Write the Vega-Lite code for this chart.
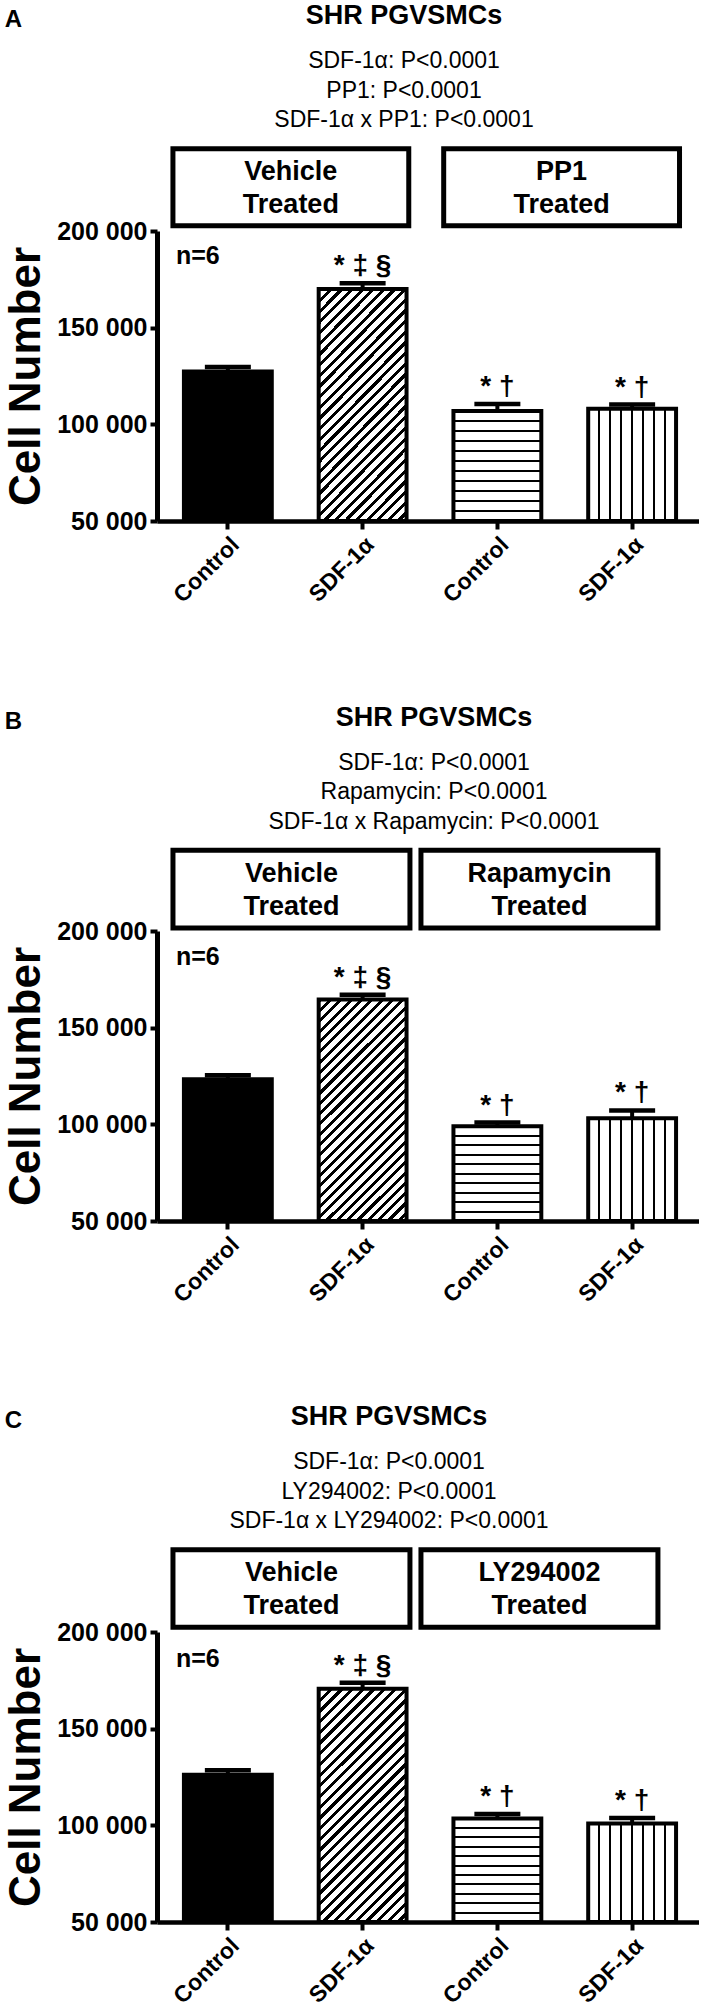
{
"$schema": "https://vega.github.io/schema/vega-lite/v6.json",
"background": "white",
"padding": {"left": 4, "top": 2, "right": 0, "bottom": 0},
"spacing": 95,
"config": {
  "font": "Liberation Sans",
  "view": {"stroke": null},
  "mark": {"color": "black"},
  "axis": {"labelColor": "black", "domainColor": "black", "tickColor": "black", "titleColor": "black", "grid": false, "labelFont": "Liberation Sans", "titleFont": "Liberation Sans"},
  "title": {"color": "black", "subtitleColor": "black", "font": "Liberation Sans", "subtitleFont": "Liberation Sans"}
},
"datasets": {
  "A": [
    {"bar": "Control (Vehicle)", "mean": 127300, "upper": 129700, "sig": ""},
    {"bar": "SDF-1α (Vehicle)", "mean": 170000, "upper": 173000, "sig": "* ‡ §"},
    {"bar": "Control (PP1)", "mean": 106900, "upper": 110500, "sig": "* †"},
    {"bar": "SDF-1α (PP1)", "mean": 108100, "upper": 110200, "sig": "* †"}
  ],
  "B": [
    {"bar": "Control (Vehicle)", "mean": 123300, "upper": 125400, "sig": ""},
    {"bar": "SDF-1α (Vehicle)", "mean": 164600, "upper": 167000, "sig": "* ‡ §"},
    {"bar": "Control (Rapamycin)", "mean": 99000, "upper": 100900, "sig": "* †"},
    {"bar": "SDF-1α (Rapamycin)", "mean": 103100, "upper": 107200, "sig": "* †"}
  ],
  "C": [
    {"bar": "Control (Vehicle)", "mean": 126100, "upper": 128500, "sig": ""},
    {"bar": "SDF-1α (Vehicle)", "mean": 170700, "upper": 173800, "sig": "* ‡ §"},
    {"bar": "Control (LY294002)", "mean": 103500, "upper": 105900, "sig": "* †"},
    {"bar": "SDF-1α (LY294002)", "mean": 100900, "upper": 103850, "sig": "* †"}
  ]
},
"vconcat": [
{
  "title": {"text": "A", "anchor": "start", "frame": "bounds", "fontSize": 24, "fontWeight": "bold", "offset": -30},
  "vconcat": [
  {
    "width": 542, "height": 290,
    "title": {"text": "SHR PGVSMCs", "subtitle": ["SDF-1α: P<0.0001", "PP1: P<0.0001", "SDF-1α x PP1: P<0.0001"], "fontSize": 27, "fontWeight": "bold", "subtitleFontSize": 23, "subtitleFontWeight": "normal", "subtitleLineHeight": 29.5, "subtitlePadding": 20, "offset": 13, "dx": -24, "anchor": "middle", "frame": "group"},
    "resolve": {"scale": {"x": "independent"}},
    "layer": [
    {
      "data": {"name": "A"},
      "encoding": {"x": {"field": "bar", "type": "nominal", "scale": {"domain": ["Control (Vehicle)", "SDF-1α (Vehicle)", "Control (PP1)", "SDF-1α (PP1)"], "paddingInner": 0.348, "paddingOuter": 0.185, "align": 0.54},
        "axis": {"title": null, "labelExpr": "split(datum.value, ' (')[0]", "labelAngle": -45, "labelFontSize": 23, "labelFontWeight": "bold", "labelPadding": 4, "tickSize": 8, "tickWidth": 4, "domainWidth": 4.5}}},
      "layer": [
        {"mark": {"type": "rule", "strokeWidth": 4}, "encoding": {"y": {"field": "mean", "type": "quantitative", "scale": {"domain": [50000, 200000], "nice": false, "zero": false},
          "axis": {"values": [50000, 100000, 150000, 200000], "labelExpr": "replace(format(datum.value, ','), ',', ' ')", "title": "Cell Number", "titleFontSize": 44, "titleFontWeight": "bold", "titlePadding": 8, "labelFontSize": 25, "labelFontWeight": "bold", "labelPadding": 3, "tickSize": 7, "tickWidth": 4, "domainWidth": 5}}, "y2": {"field": "upper"}}},
        {"mark": {"type": "tick", "size": 46, "thickness": 4.5, "orient": "horizontal", "opacity": 1}, "encoding": {"y": {"field": "upper", "type": "quantitative", "scale": {"domain": [50000, 200000], "nice": false, "zero": false}}}},
        {"transform": [{"filter": "datum.bar === 'Control (Vehicle)'"}], "mark": {"type": "bar", "fill": "black", "stroke": "black", "strokeWidth": 4}, "encoding": {"y": {"field": "mean", "type": "quantitative", "scale": {"domain": [50000, 200000], "nice": false, "zero": false}}, "y2": {"datum": 50000}}},
        {"transform": [{"filter": "datum.bar === 'SDF-1α (Vehicle)'"}], "mark": {"type": "bar", "stroke": "black", "strokeWidth": 4, "fill": {"gradient": "linear", "x1": 0, "y1": 0, "x2": 0.4614, "y2": 1.206, "stops": [{"offset":0,"color":"#000"},{"offset":0.0133,"color":"#000"},{"offset":0.0133,"color":"#fff"},{"offset":0.0333,"color":"#fff"},{"offset":0.0333,"color":"#000"},{"offset":0.0467,"color":"#000"},{"offset":0.0467,"color":"#fff"},{"offset":0.0667,"color":"#fff"},{"offset":0.0667,"color":"#000"},{"offset":0.08,"color":"#000"},{"offset":0.08,"color":"#fff"},{"offset":0.1,"color":"#fff"},{"offset":0.1,"color":"#000"},{"offset":0.1133,"color":"#000"},{"offset":0.1133,"color":"#fff"},{"offset":0.1333,"color":"#fff"},{"offset":0.1333,"color":"#000"},{"offset":0.1467,"color":"#000"},{"offset":0.1467,"color":"#fff"},{"offset":0.1667,"color":"#fff"},{"offset":0.1667,"color":"#000"},{"offset":0.18,"color":"#000"},{"offset":0.18,"color":"#fff"},{"offset":0.2,"color":"#fff"},{"offset":0.2,"color":"#000"},{"offset":0.2133,"color":"#000"},{"offset":0.2133,"color":"#fff"},{"offset":0.2333,"color":"#fff"},{"offset":0.2333,"color":"#000"},{"offset":0.2467,"color":"#000"},{"offset":0.2467,"color":"#fff"},{"offset":0.2667,"color":"#fff"},{"offset":0.2667,"color":"#000"},{"offset":0.28,"color":"#000"},{"offset":0.28,"color":"#fff"},{"offset":0.3,"color":"#fff"},{"offset":0.3,"color":"#000"},{"offset":0.3133,"color":"#000"},{"offset":0.3133,"color":"#fff"},{"offset":0.3333,"color":"#fff"},{"offset":0.3333,"color":"#000"},{"offset":0.3467,"color":"#000"},{"offset":0.3467,"color":"#fff"},{"offset":0.3667,"color":"#fff"},{"offset":0.3667,"color":"#000"},{"offset":0.38,"color":"#000"},{"offset":0.38,"color":"#fff"},{"offset":0.4,"color":"#fff"},{"offset":0.4,"color":"#000"},{"offset":0.4133,"color":"#000"},{"offset":0.4133,"color":"#fff"},{"offset":0.4333,"color":"#fff"},{"offset":0.4333,"color":"#000"},{"offset":0.4467,"color":"#000"},{"offset":0.4467,"color":"#fff"},{"offset":0.4667,"color":"#fff"},{"offset":0.4667,"color":"#000"},{"offset":0.48,"color":"#000"},{"offset":0.48,"color":"#fff"},{"offset":0.5,"color":"#fff"},{"offset":0.5,"color":"#000"},{"offset":0.5133,"color":"#000"},{"offset":0.5133,"color":"#fff"},{"offset":0.5333,"color":"#fff"},{"offset":0.5333,"color":"#000"},{"offset":0.5467,"color":"#000"},{"offset":0.5467,"color":"#fff"},{"offset":0.5667,"color":"#fff"},{"offset":0.5667,"color":"#000"},{"offset":0.58,"color":"#000"},{"offset":0.58,"color":"#fff"},{"offset":0.6,"color":"#fff"},{"offset":0.6,"color":"#000"},{"offset":0.6133,"color":"#000"},{"offset":0.6133,"color":"#fff"},{"offset":0.6333,"color":"#fff"},{"offset":0.6333,"color":"#000"},{"offset":0.6467,"color":"#000"},{"offset":0.6467,"color":"#fff"},{"offset":0.6667,"color":"#fff"},{"offset":0.6667,"color":"#000"},{"offset":0.68,"color":"#000"},{"offset":0.68,"color":"#fff"},{"offset":0.7,"color":"#fff"},{"offset":0.7,"color":"#000"},{"offset":0.7133,"color":"#000"},{"offset":0.7133,"color":"#fff"},{"offset":0.7333,"color":"#fff"},{"offset":0.7333,"color":"#000"},{"offset":0.7467,"color":"#000"},{"offset":0.7467,"color":"#fff"},{"offset":0.7667,"color":"#fff"},{"offset":0.7667,"color":"#000"},{"offset":0.78,"color":"#000"},{"offset":0.78,"color":"#fff"},{"offset":0.8,"color":"#fff"},{"offset":0.8,"color":"#000"},{"offset":0.8133,"color":"#000"},{"offset":0.8133,"color":"#fff"},{"offset":0.8333,"color":"#fff"},{"offset":0.8333,"color":"#000"},{"offset":0.8467,"color":"#000"},{"offset":0.8467,"color":"#fff"},{"offset":0.8667,"color":"#fff"},{"offset":0.8667,"color":"#000"},{"offset":0.88,"color":"#000"},{"offset":0.88,"color":"#fff"},{"offset":0.9,"color":"#fff"},{"offset":0.9,"color":"#000"},{"offset":0.9133,"color":"#000"},{"offset":0.9133,"color":"#fff"},{"offset":0.9333,"color":"#fff"},{"offset":0.9333,"color":"#000"},{"offset":0.9467,"color":"#000"},{"offset":0.9467,"color":"#fff"},{"offset":0.9667,"color":"#fff"},{"offset":0.9667,"color":"#000"},{"offset":0.98,"color":"#000"},{"offset":0.98,"color":"#fff"},{"offset":1,"color":"#fff"}]}}, "encoding": {"y": {"field": "mean", "type": "quantitative", "scale": {"domain": [50000, 200000], "nice": false, "zero": false}}, "y2": {"datum": 50000}}},
        {"transform": [{"filter": "datum.bar === 'Control (PP1)'"}], "mark": {"type": "bar", "stroke": "black", "strokeWidth": 4, "fill": {"gradient": "linear", "x1": 0, "y1": 0, "x2": 0, "y2": 1, "stops": [{"offset":0,"color":"#fff"},{"offset":0.0814,"color":"#fff"},{"offset":0.0814,"color":"#000"},{"offset":0.1004,"color":"#000"},{"offset":0.1004,"color":"#fff"},{"offset":0.1723,"color":"#fff"},{"offset":0.1723,"color":"#000"},{"offset":0.1913,"color":"#000"},{"offset":0.1913,"color":"#fff"},{"offset":0.2632,"color":"#fff"},{"offset":0.2632,"color":"#000"},{"offset":0.2822,"color":"#000"},{"offset":0.2822,"color":"#fff"},{"offset":0.3541,"color":"#fff"},{"offset":0.3541,"color":"#000"},{"offset":0.3731,"color":"#000"},{"offset":0.3731,"color":"#fff"},{"offset":0.445,"color":"#fff"},{"offset":0.445,"color":"#000"},{"offset":0.464,"color":"#000"},{"offset":0.464,"color":"#fff"},{"offset":0.536,"color":"#fff"},{"offset":0.536,"color":"#000"},{"offset":0.555,"color":"#000"},{"offset":0.555,"color":"#fff"},{"offset":0.6269,"color":"#fff"},{"offset":0.6269,"color":"#000"},{"offset":0.6459,"color":"#000"},{"offset":0.6459,"color":"#fff"},{"offset":0.7178,"color":"#fff"},{"offset":0.7178,"color":"#000"},{"offset":0.7368,"color":"#000"},{"offset":0.7368,"color":"#fff"},{"offset":0.8087,"color":"#fff"},{"offset":0.8087,"color":"#000"},{"offset":0.8277,"color":"#000"},{"offset":0.8277,"color":"#fff"},{"offset":0.8996,"color":"#fff"},{"offset":0.8996,"color":"#000"},{"offset":0.9186,"color":"#000"},{"offset":0.9186,"color":"#fff"},{"offset":1,"color":"#fff"}]}}, "encoding": {"y": {"field": "mean", "type": "quantitative", "scale": {"domain": [50000, 200000], "nice": false, "zero": false}}, "y2": {"datum": 50000}}},
        {"transform": [{"filter": "datum.bar === 'SDF-1α (PP1)'"}], "mark": {"type": "bar", "stroke": "black", "strokeWidth": 4, "fill": {"gradient": "linear", "x1": 0, "y1": 0, "x2": 1, "y2": 0, "stops": [{"offset":0,"color":"#fff"},{"offset":0.112,"color":"#fff"},{"offset":0.112,"color":"#000"},{"offset":0.138,"color":"#000"},{"offset":0.138,"color":"#fff"},{"offset":0.237,"color":"#fff"},{"offset":0.237,"color":"#000"},{"offset":0.263,"color":"#000"},{"offset":0.263,"color":"#fff"},{"offset":0.362,"color":"#fff"},{"offset":0.362,"color":"#000"},{"offset":0.388,"color":"#000"},{"offset":0.388,"color":"#fff"},{"offset":0.487,"color":"#fff"},{"offset":0.487,"color":"#000"},{"offset":0.513,"color":"#000"},{"offset":0.513,"color":"#fff"},{"offset":0.612,"color":"#fff"},{"offset":0.612,"color":"#000"},{"offset":0.638,"color":"#000"},{"offset":0.638,"color":"#fff"},{"offset":0.737,"color":"#fff"},{"offset":0.737,"color":"#000"},{"offset":0.763,"color":"#000"},{"offset":0.763,"color":"#fff"},{"offset":0.862,"color":"#fff"},{"offset":0.862,"color":"#000"},{"offset":0.888,"color":"#000"},{"offset":0.888,"color":"#fff"},{"offset":1,"color":"#fff"}]}}, "encoding": {"y": {"field": "mean", "type": "quantitative", "scale": {"domain": [50000, 200000], "nice": false, "zero": false}}, "y2": {"datum": 50000}}},
        {"mark": {"type": "text", "baseline": "bottom", "dy": -3, "fontSize": 28, "fontWeight": "bold"}, "encoding": {"y": {"field": "upper", "type": "quantitative", "scale": {"domain": [50000, 200000], "nice": false, "zero": false}}, "text": {"field": "sig"}}},
        {"data": {"values": [{"bar": "Control (Vehicle)", "txt": "n=6"}]}, "mark": {"type": "text", "align": "left", "baseline": "middle", "dx": -8, "fontSize": 25, "fontWeight": "bold"}, "encoding": {"x": {"field": "bar", "type": "nominal", "bandPosition": 0}, "y": {"datum": 187200, "type": "quantitative", "scale": {"domain": [50000, 200000], "nice": false, "zero": false}}, "text": {"field": "txt"}}}
      ]
    },
    {
      "data": {"values": [{"group": "Vehicle", "label": "Vehicle\nTreated"}, {"group": "PP1", "label": "PP1\nTreated"}]},
      "encoding": {"x": {"field": "group", "type": "nominal", "scale": {"domain": ["Vehicle", "PP1"], "paddingInner": 0.129, "paddingOuter": 0.0654, "align": 0.45}, "axis": null}},
      "layer": [
        {"mark": {"type": "rect", "fill": "white", "stroke": "black", "strokeWidth": 5, "clip": false}, "encoding": {"y": {"datum": 202700, "type": "quantitative", "scale": {"domain": [50000, 200000], "nice": false, "zero": false}}, "y2": {"datum": 242500}}},
        {"mark": {"type": "text", "lineBreak": "\n", "lineHeight": 33, "fontSize": 27, "fontWeight": "bold", "baseline": "middle"}, "encoding": {"y": {"datum": 230300, "type": "quantitative", "scale": {"domain": [50000, 200000], "nice": false, "zero": false}}, "text": {"field": "label"}}}
      ]
    }
    ]
  }
  ]
},
{
  "title": {"text": "B", "anchor": "start", "frame": "bounds", "fontSize": 24, "fontWeight": "bold", "offset": -30},
  "vconcat": [
  {
    "width": 542, "height": 290,
    "title": {"text": "     SHR PGVSMCs", "subtitle": ["SDF-1α: P<0.0001", "Rapamycin: P<0.0001", "SDF-1α x Rapamycin: P<0.0001"], "fontSize": 27, "fontWeight": "bold", "subtitleFontSize": 23, "subtitleFontWeight": "normal", "subtitleLineHeight": 29.5, "subtitlePadding": 20, "offset": 13, "dx": 6, "anchor": "middle", "frame": "group"},
    "resolve": {"scale": {"x": "independent"}},
    "layer": [
    {
      "data": {"name": "B"},
      "encoding": {"x": {"field": "bar", "type": "nominal", "scale": {"domain": ["Control (Vehicle)", "SDF-1α (Vehicle)", "Control (Rapamycin)", "SDF-1α (Rapamycin)"], "paddingInner": 0.348, "paddingOuter": 0.185, "align": 0.54},
        "axis": {"title": null, "labelExpr": "split(datum.value, ' (')[0]", "labelAngle": -45, "labelFontSize": 23, "labelFontWeight": "bold", "labelPadding": 4, "tickSize": 8, "tickWidth": 4, "domainWidth": 4.5}}},
      "layer": [
        {"mark": {"type": "rule", "strokeWidth": 4}, "encoding": {"y": {"field": "mean", "type": "quantitative", "scale": {"domain": [50000, 200000], "nice": false, "zero": false},
          "axis": {"values": [50000, 100000, 150000, 200000], "labelExpr": "replace(format(datum.value, ','), ',', ' ')", "title": "Cell Number", "titleFontSize": 44, "titleFontWeight": "bold", "titlePadding": 8, "labelFontSize": 25, "labelFontWeight": "bold", "labelPadding": 3, "tickSize": 7, "tickWidth": 4, "domainWidth": 5}}, "y2": {"field": "upper"}}},
        {"mark": {"type": "tick", "size": 46, "thickness": 4.5, "orient": "horizontal", "opacity": 1}, "encoding": {"y": {"field": "upper", "type": "quantitative", "scale": {"domain": [50000, 200000], "nice": false, "zero": false}}}},
        {"transform": [{"filter": "datum.bar === 'Control (Vehicle)'"}], "mark": {"type": "bar", "fill": "black", "stroke": "black", "strokeWidth": 4}, "encoding": {"y": {"field": "mean", "type": "quantitative", "scale": {"domain": [50000, 200000], "nice": false, "zero": false}}, "y2": {"datum": 50000}}},
        {"transform": [{"filter": "datum.bar === 'SDF-1α (Vehicle)'"}], "mark": {"type": "bar", "stroke": "black", "strokeWidth": 4, "fill": {"gradient": "linear", "x1": 0, "y1": 0, "x2": 0.478, "y2": 1.207, "stops": [{"offset":0,"color":"#000"},{"offset":0.0133,"color":"#000"},{"offset":0.0133,"color":"#fff"},{"offset":0.0333,"color":"#fff"},{"offset":0.0333,"color":"#000"},{"offset":0.0467,"color":"#000"},{"offset":0.0467,"color":"#fff"},{"offset":0.0667,"color":"#fff"},{"offset":0.0667,"color":"#000"},{"offset":0.08,"color":"#000"},{"offset":0.08,"color":"#fff"},{"offset":0.1,"color":"#fff"},{"offset":0.1,"color":"#000"},{"offset":0.1133,"color":"#000"},{"offset":0.1133,"color":"#fff"},{"offset":0.1333,"color":"#fff"},{"offset":0.1333,"color":"#000"},{"offset":0.1467,"color":"#000"},{"offset":0.1467,"color":"#fff"},{"offset":0.1667,"color":"#fff"},{"offset":0.1667,"color":"#000"},{"offset":0.18,"color":"#000"},{"offset":0.18,"color":"#fff"},{"offset":0.2,"color":"#fff"},{"offset":0.2,"color":"#000"},{"offset":0.2133,"color":"#000"},{"offset":0.2133,"color":"#fff"},{"offset":0.2333,"color":"#fff"},{"offset":0.2333,"color":"#000"},{"offset":0.2467,"color":"#000"},{"offset":0.2467,"color":"#fff"},{"offset":0.2667,"color":"#fff"},{"offset":0.2667,"color":"#000"},{"offset":0.28,"color":"#000"},{"offset":0.28,"color":"#fff"},{"offset":0.3,"color":"#fff"},{"offset":0.3,"color":"#000"},{"offset":0.3133,"color":"#000"},{"offset":0.3133,"color":"#fff"},{"offset":0.3333,"color":"#fff"},{"offset":0.3333,"color":"#000"},{"offset":0.3467,"color":"#000"},{"offset":0.3467,"color":"#fff"},{"offset":0.3667,"color":"#fff"},{"offset":0.3667,"color":"#000"},{"offset":0.38,"color":"#000"},{"offset":0.38,"color":"#fff"},{"offset":0.4,"color":"#fff"},{"offset":0.4,"color":"#000"},{"offset":0.4133,"color":"#000"},{"offset":0.4133,"color":"#fff"},{"offset":0.4333,"color":"#fff"},{"offset":0.4333,"color":"#000"},{"offset":0.4467,"color":"#000"},{"offset":0.4467,"color":"#fff"},{"offset":0.4667,"color":"#fff"},{"offset":0.4667,"color":"#000"},{"offset":0.48,"color":"#000"},{"offset":0.48,"color":"#fff"},{"offset":0.5,"color":"#fff"},{"offset":0.5,"color":"#000"},{"offset":0.5133,"color":"#000"},{"offset":0.5133,"color":"#fff"},{"offset":0.5333,"color":"#fff"},{"offset":0.5333,"color":"#000"},{"offset":0.5467,"color":"#000"},{"offset":0.5467,"color":"#fff"},{"offset":0.5667,"color":"#fff"},{"offset":0.5667,"color":"#000"},{"offset":0.58,"color":"#000"},{"offset":0.58,"color":"#fff"},{"offset":0.6,"color":"#fff"},{"offset":0.6,"color":"#000"},{"offset":0.6133,"color":"#000"},{"offset":0.6133,"color":"#fff"},{"offset":0.6333,"color":"#fff"},{"offset":0.6333,"color":"#000"},{"offset":0.6467,"color":"#000"},{"offset":0.6467,"color":"#fff"},{"offset":0.6667,"color":"#fff"},{"offset":0.6667,"color":"#000"},{"offset":0.68,"color":"#000"},{"offset":0.68,"color":"#fff"},{"offset":0.7,"color":"#fff"},{"offset":0.7,"color":"#000"},{"offset":0.7133,"color":"#000"},{"offset":0.7133,"color":"#fff"},{"offset":0.7333,"color":"#fff"},{"offset":0.7333,"color":"#000"},{"offset":0.7467,"color":"#000"},{"offset":0.7467,"color":"#fff"},{"offset":0.7667,"color":"#fff"},{"offset":0.7667,"color":"#000"},{"offset":0.78,"color":"#000"},{"offset":0.78,"color":"#fff"},{"offset":0.8,"color":"#fff"},{"offset":0.8,"color":"#000"},{"offset":0.8133,"color":"#000"},{"offset":0.8133,"color":"#fff"},{"offset":0.8333,"color":"#fff"},{"offset":0.8333,"color":"#000"},{"offset":0.8467,"color":"#000"},{"offset":0.8467,"color":"#fff"},{"offset":0.8667,"color":"#fff"},{"offset":0.8667,"color":"#000"},{"offset":0.88,"color":"#000"},{"offset":0.88,"color":"#fff"},{"offset":0.9,"color":"#fff"},{"offset":0.9,"color":"#000"},{"offset":0.9133,"color":"#000"},{"offset":0.9133,"color":"#fff"},{"offset":0.9333,"color":"#fff"},{"offset":0.9333,"color":"#000"},{"offset":0.9467,"color":"#000"},{"offset":0.9467,"color":"#fff"},{"offset":0.9667,"color":"#fff"},{"offset":0.9667,"color":"#000"},{"offset":0.98,"color":"#000"},{"offset":0.98,"color":"#fff"},{"offset":1,"color":"#fff"}]}}, "encoding": {"y": {"field": "mean", "type": "quantitative", "scale": {"domain": [50000, 200000], "nice": false, "zero": false}}, "y2": {"datum": 50000}}},
        {"transform": [{"filter": "datum.bar === 'Control (Rapamycin)'"}], "mark": {"type": "bar", "stroke": "black", "strokeWidth": 4, "fill": {"gradient": "linear", "x1": 0, "y1": 0, "x2": 0, "y2": 1, "stops": [{"offset":0,"color":"#fff"},{"offset":0.0895,"color":"#fff"},{"offset":0.0895,"color":"#000"},{"offset":0.1105,"color":"#000"},{"offset":0.1105,"color":"#fff"},{"offset":0.1895,"color":"#fff"},{"offset":0.1895,"color":"#000"},{"offset":0.2105,"color":"#000"},{"offset":0.2105,"color":"#fff"},{"offset":0.2895,"color":"#fff"},{"offset":0.2895,"color":"#000"},{"offset":0.3105,"color":"#000"},{"offset":0.3105,"color":"#fff"},{"offset":0.3895,"color":"#fff"},{"offset":0.3895,"color":"#000"},{"offset":0.4105,"color":"#000"},{"offset":0.4105,"color":"#fff"},{"offset":0.4895,"color":"#fff"},{"offset":0.4895,"color":"#000"},{"offset":0.5105,"color":"#000"},{"offset":0.5105,"color":"#fff"},{"offset":0.5895,"color":"#fff"},{"offset":0.5895,"color":"#000"},{"offset":0.6105,"color":"#000"},{"offset":0.6105,"color":"#fff"},{"offset":0.6895,"color":"#fff"},{"offset":0.6895,"color":"#000"},{"offset":0.7105,"color":"#000"},{"offset":0.7105,"color":"#fff"},{"offset":0.7895,"color":"#fff"},{"offset":0.7895,"color":"#000"},{"offset":0.8105,"color":"#000"},{"offset":0.8105,"color":"#fff"},{"offset":0.8895,"color":"#fff"},{"offset":0.8895,"color":"#000"},{"offset":0.9105,"color":"#000"},{"offset":0.9105,"color":"#fff"},{"offset":1,"color":"#fff"}]}}, "encoding": {"y": {"field": "mean", "type": "quantitative", "scale": {"domain": [50000, 200000], "nice": false, "zero": false}}, "y2": {"datum": 50000}}},
        {"transform": [{"filter": "datum.bar === 'SDF-1α (Rapamycin)'"}], "mark": {"type": "bar", "stroke": "black", "strokeWidth": 4, "fill": {"gradient": "linear", "x1": 0, "y1": 0, "x2": 1, "y2": 0, "stops": [{"offset":0,"color":"#fff"},{"offset":0.112,"color":"#fff"},{"offset":0.112,"color":"#000"},{"offset":0.138,"color":"#000"},{"offset":0.138,"color":"#fff"},{"offset":0.237,"color":"#fff"},{"offset":0.237,"color":"#000"},{"offset":0.263,"color":"#000"},{"offset":0.263,"color":"#fff"},{"offset":0.362,"color":"#fff"},{"offset":0.362,"color":"#000"},{"offset":0.388,"color":"#000"},{"offset":0.388,"color":"#fff"},{"offset":0.487,"color":"#fff"},{"offset":0.487,"color":"#000"},{"offset":0.513,"color":"#000"},{"offset":0.513,"color":"#fff"},{"offset":0.612,"color":"#fff"},{"offset":0.612,"color":"#000"},{"offset":0.638,"color":"#000"},{"offset":0.638,"color":"#fff"},{"offset":0.737,"color":"#fff"},{"offset":0.737,"color":"#000"},{"offset":0.763,"color":"#000"},{"offset":0.763,"color":"#fff"},{"offset":0.862,"color":"#fff"},{"offset":0.862,"color":"#000"},{"offset":0.888,"color":"#000"},{"offset":0.888,"color":"#fff"},{"offset":1,"color":"#fff"}]}}, "encoding": {"y": {"field": "mean", "type": "quantitative", "scale": {"domain": [50000, 200000], "nice": false, "zero": false}}, "y2": {"datum": 50000}}},
        {"mark": {"type": "text", "baseline": "bottom", "dy": -3, "fontSize": 28, "fontWeight": "bold"}, "encoding": {"y": {"field": "upper", "type": "quantitative", "scale": {"domain": [50000, 200000], "nice": false, "zero": false}}, "text": {"field": "sig"}}},
        {"data": {"values": [{"bar": "Control (Vehicle)", "txt": "n=6"}]}, "mark": {"type": "text", "align": "left", "baseline": "middle", "dx": -8, "fontSize": 25, "fontWeight": "bold"}, "encoding": {"x": {"field": "bar", "type": "nominal", "bandPosition": 0}, "y": {"datum": 186600, "type": "quantitative", "scale": {"domain": [50000, 200000], "nice": false, "zero": false}}, "text": {"field": "txt"}}}
      ]
    },
    {
      "data": {"values": [{"group": "Vehicle", "label": "Vehicle\nTreated"}, {"group": "Rapamycin", "label": "Rapamycin\nTreated"}]},
      "encoding": {"x": {"field": "group", "type": "nominal", "scale": {"domain": ["Vehicle", "Rapamycin"], "paddingInner": 0.0444, "paddingOuter": 0.115, "align": 0.28}, "axis": null}},
      "layer": [
        {"mark": {"type": "rect", "fill": "white", "stroke": "black", "strokeWidth": 5, "clip": false}, "encoding": {"y": {"datum": 201500, "type": "quantitative", "scale": {"domain": [50000, 200000], "nice": false, "zero": false}}, "y2": {"datum": 241800}}},
        {"mark": {"type": "text", "lineBreak": "\n", "lineHeight": 33, "fontSize": 27, "fontWeight": "bold", "baseline": "middle"}, "encoding": {"y": {"datum": 229500, "type": "quantitative", "scale": {"domain": [50000, 200000], "nice": false, "zero": false}}, "text": {"field": "label"}}}
      ]
    }
    ]
  }
  ]
},
{
  "title": {"text": "C", "anchor": "start", "frame": "bounds", "fontSize": 24, "fontWeight": "bold", "offset": -30},
  "vconcat": [
  {
    "width": 542, "height": 290,
    "title": {"text": "    SHR PGVSMCs", "subtitle": ["SDF-1α: P<0.0001", "LY294002: P<0.0001", "SDF-1α x LY294002: P<0.0001"], "fontSize": 27, "fontWeight": "bold", "subtitleFontSize": 23, "subtitleFontWeight": "normal", "subtitleLineHeight": 29.5, "subtitlePadding": 20, "offset": 13, "dx": -39, "anchor": "middle", "frame": "group"},
    "resolve": {"scale": {"x": "independent"}},
    "layer": [
    {
      "data": {"name": "C"},
      "encoding": {"x": {"field": "bar", "type": "nominal", "scale": {"domain": ["Control (Vehicle)", "SDF-1α (Vehicle)", "Control (LY294002)", "SDF-1α (LY294002)"], "paddingInner": 0.348, "paddingOuter": 0.185, "align": 0.54},
        "axis": {"title": null, "labelExpr": "split(datum.value, ' (')[0]", "labelAngle": -45, "labelFontSize": 23, "labelFontWeight": "bold", "labelPadding": 4, "tickSize": 8, "tickWidth": 4, "domainWidth": 4.5}}},
      "layer": [
        {"mark": {"type": "rule", "strokeWidth": 4}, "encoding": {"y": {"field": "mean", "type": "quantitative", "scale": {"domain": [50000, 200000], "nice": false, "zero": false},
          "axis": {"values": [50000, 100000, 150000, 200000], "labelExpr": "replace(format(datum.value, ','), ',', ' ')", "title": "Cell Number", "titleFontSize": 44, "titleFontWeight": "bold", "titlePadding": 8, "labelFontSize": 25, "labelFontWeight": "bold", "labelPadding": 3, "tickSize": 7, "tickWidth": 4, "domainWidth": 5}}, "y2": {"field": "upper"}}},
        {"mark": {"type": "tick", "size": 46, "thickness": 4.5, "orient": "horizontal", "opacity": 1}, "encoding": {"y": {"field": "upper", "type": "quantitative", "scale": {"domain": [50000, 200000], "nice": false, "zero": false}}}},
        {"transform": [{"filter": "datum.bar === 'Control (Vehicle)'"}], "mark": {"type": "bar", "fill": "black", "stroke": "black", "strokeWidth": 4}, "encoding": {"y": {"field": "mean", "type": "quantitative", "scale": {"domain": [50000, 200000], "nice": false, "zero": false}}, "y2": {"datum": 50000}}},
        {"transform": [{"filter": "datum.bar === 'SDF-1α (Vehicle)'"}], "mark": {"type": "bar", "stroke": "black", "strokeWidth": 4, "fill": {"gradient": "linear", "x1": 0, "y1": 0, "x2": 0.454, "y2": 1.206, "stops": [{"offset":0,"color":"#000"},{"offset":0.0133,"color":"#000"},{"offset":0.0133,"color":"#fff"},{"offset":0.0333,"color":"#fff"},{"offset":0.0333,"color":"#000"},{"offset":0.0467,"color":"#000"},{"offset":0.0467,"color":"#fff"},{"offset":0.0667,"color":"#fff"},{"offset":0.0667,"color":"#000"},{"offset":0.08,"color":"#000"},{"offset":0.08,"color":"#fff"},{"offset":0.1,"color":"#fff"},{"offset":0.1,"color":"#000"},{"offset":0.1133,"color":"#000"},{"offset":0.1133,"color":"#fff"},{"offset":0.1333,"color":"#fff"},{"offset":0.1333,"color":"#000"},{"offset":0.1467,"color":"#000"},{"offset":0.1467,"color":"#fff"},{"offset":0.1667,"color":"#fff"},{"offset":0.1667,"color":"#000"},{"offset":0.18,"color":"#000"},{"offset":0.18,"color":"#fff"},{"offset":0.2,"color":"#fff"},{"offset":0.2,"color":"#000"},{"offset":0.2133,"color":"#000"},{"offset":0.2133,"color":"#fff"},{"offset":0.2333,"color":"#fff"},{"offset":0.2333,"color":"#000"},{"offset":0.2467,"color":"#000"},{"offset":0.2467,"color":"#fff"},{"offset":0.2667,"color":"#fff"},{"offset":0.2667,"color":"#000"},{"offset":0.28,"color":"#000"},{"offset":0.28,"color":"#fff"},{"offset":0.3,"color":"#fff"},{"offset":0.3,"color":"#000"},{"offset":0.3133,"color":"#000"},{"offset":0.3133,"color":"#fff"},{"offset":0.3333,"color":"#fff"},{"offset":0.3333,"color":"#000"},{"offset":0.3467,"color":"#000"},{"offset":0.3467,"color":"#fff"},{"offset":0.3667,"color":"#fff"},{"offset":0.3667,"color":"#000"},{"offset":0.38,"color":"#000"},{"offset":0.38,"color":"#fff"},{"offset":0.4,"color":"#fff"},{"offset":0.4,"color":"#000"},{"offset":0.4133,"color":"#000"},{"offset":0.4133,"color":"#fff"},{"offset":0.4333,"color":"#fff"},{"offset":0.4333,"color":"#000"},{"offset":0.4467,"color":"#000"},{"offset":0.4467,"color":"#fff"},{"offset":0.4667,"color":"#fff"},{"offset":0.4667,"color":"#000"},{"offset":0.48,"color":"#000"},{"offset":0.48,"color":"#fff"},{"offset":0.5,"color":"#fff"},{"offset":0.5,"color":"#000"},{"offset":0.5133,"color":"#000"},{"offset":0.5133,"color":"#fff"},{"offset":0.5333,"color":"#fff"},{"offset":0.5333,"color":"#000"},{"offset":0.5467,"color":"#000"},{"offset":0.5467,"color":"#fff"},{"offset":0.5667,"color":"#fff"},{"offset":0.5667,"color":"#000"},{"offset":0.58,"color":"#000"},{"offset":0.58,"color":"#fff"},{"offset":0.6,"color":"#fff"},{"offset":0.6,"color":"#000"},{"offset":0.6133,"color":"#000"},{"offset":0.6133,"color":"#fff"},{"offset":0.6333,"color":"#fff"},{"offset":0.6333,"color":"#000"},{"offset":0.6467,"color":"#000"},{"offset":0.6467,"color":"#fff"},{"offset":0.6667,"color":"#fff"},{"offset":0.6667,"color":"#000"},{"offset":0.68,"color":"#000"},{"offset":0.68,"color":"#fff"},{"offset":0.7,"color":"#fff"},{"offset":0.7,"color":"#000"},{"offset":0.7133,"color":"#000"},{"offset":0.7133,"color":"#fff"},{"offset":0.7333,"color":"#fff"},{"offset":0.7333,"color":"#000"},{"offset":0.7467,"color":"#000"},{"offset":0.7467,"color":"#fff"},{"offset":0.7667,"color":"#fff"},{"offset":0.7667,"color":"#000"},{"offset":0.78,"color":"#000"},{"offset":0.78,"color":"#fff"},{"offset":0.8,"color":"#fff"},{"offset":0.8,"color":"#000"},{"offset":0.8133,"color":"#000"},{"offset":0.8133,"color":"#fff"},{"offset":0.8333,"color":"#fff"},{"offset":0.8333,"color":"#000"},{"offset":0.8467,"color":"#000"},{"offset":0.8467,"color":"#fff"},{"offset":0.8667,"color":"#fff"},{"offset":0.8667,"color":"#000"},{"offset":0.88,"color":"#000"},{"offset":0.88,"color":"#fff"},{"offset":0.9,"color":"#fff"},{"offset":0.9,"color":"#000"},{"offset":0.9133,"color":"#000"},{"offset":0.9133,"color":"#fff"},{"offset":0.9333,"color":"#fff"},{"offset":0.9333,"color":"#000"},{"offset":0.9467,"color":"#000"},{"offset":0.9467,"color":"#fff"},{"offset":0.9667,"color":"#fff"},{"offset":0.9667,"color":"#000"},{"offset":0.98,"color":"#000"},{"offset":0.98,"color":"#fff"},{"offset":1,"color":"#fff"}]}}, "encoding": {"y": {"field": "mean", "type": "quantitative", "scale": {"domain": [50000, 200000], "nice": false, "zero": false}}, "y2": {"datum": 50000}}},
        {"transform": [{"filter": "datum.bar === 'Control (LY294002)'"}], "mark": {"type": "bar", "stroke": "black", "strokeWidth": 4, "fill": {"gradient": "linear", "x1": 0, "y1": 0, "x2": 0, "y2": 1, "stops": [{"offset":0,"color":"#fff"},{"offset":0.0814,"color":"#fff"},{"offset":0.0814,"color":"#000"},{"offset":0.1004,"color":"#000"},{"offset":0.1004,"color":"#fff"},{"offset":0.1723,"color":"#fff"},{"offset":0.1723,"color":"#000"},{"offset":0.1913,"color":"#000"},{"offset":0.1913,"color":"#fff"},{"offset":0.2632,"color":"#fff"},{"offset":0.2632,"color":"#000"},{"offset":0.2822,"color":"#000"},{"offset":0.2822,"color":"#fff"},{"offset":0.3541,"color":"#fff"},{"offset":0.3541,"color":"#000"},{"offset":0.3731,"color":"#000"},{"offset":0.3731,"color":"#fff"},{"offset":0.445,"color":"#fff"},{"offset":0.445,"color":"#000"},{"offset":0.464,"color":"#000"},{"offset":0.464,"color":"#fff"},{"offset":0.536,"color":"#fff"},{"offset":0.536,"color":"#000"},{"offset":0.555,"color":"#000"},{"offset":0.555,"color":"#fff"},{"offset":0.6269,"color":"#fff"},{"offset":0.6269,"color":"#000"},{"offset":0.6459,"color":"#000"},{"offset":0.6459,"color":"#fff"},{"offset":0.7178,"color":"#fff"},{"offset":0.7178,"color":"#000"},{"offset":0.7368,"color":"#000"},{"offset":0.7368,"color":"#fff"},{"offset":0.8087,"color":"#fff"},{"offset":0.8087,"color":"#000"},{"offset":0.8277,"color":"#000"},{"offset":0.8277,"color":"#fff"},{"offset":0.8996,"color":"#fff"},{"offset":0.8996,"color":"#000"},{"offset":0.9186,"color":"#000"},{"offset":0.9186,"color":"#fff"},{"offset":1,"color":"#fff"}]}}, "encoding": {"y": {"field": "mean", "type": "quantitative", "scale": {"domain": [50000, 200000], "nice": false, "zero": false}}, "y2": {"datum": 50000}}},
        {"transform": [{"filter": "datum.bar === 'SDF-1α (LY294002)'"}], "mark": {"type": "bar", "stroke": "black", "strokeWidth": 4, "fill": {"gradient": "linear", "x1": 0, "y1": 0, "x2": 1, "y2": 0, "stops": [{"offset":0,"color":"#fff"},{"offset":0.112,"color":"#fff"},{"offset":0.112,"color":"#000"},{"offset":0.138,"color":"#000"},{"offset":0.138,"color":"#fff"},{"offset":0.237,"color":"#fff"},{"offset":0.237,"color":"#000"},{"offset":0.263,"color":"#000"},{"offset":0.263,"color":"#fff"},{"offset":0.362,"color":"#fff"},{"offset":0.362,"color":"#000"},{"offset":0.388,"color":"#000"},{"offset":0.388,"color":"#fff"},{"offset":0.487,"color":"#fff"},{"offset":0.487,"color":"#000"},{"offset":0.513,"color":"#000"},{"offset":0.513,"color":"#fff"},{"offset":0.612,"color":"#fff"},{"offset":0.612,"color":"#000"},{"offset":0.638,"color":"#000"},{"offset":0.638,"color":"#fff"},{"offset":0.737,"color":"#fff"},{"offset":0.737,"color":"#000"},{"offset":0.763,"color":"#000"},{"offset":0.763,"color":"#fff"},{"offset":0.862,"color":"#fff"},{"offset":0.862,"color":"#000"},{"offset":0.888,"color":"#000"},{"offset":0.888,"color":"#fff"},{"offset":1,"color":"#fff"}]}}, "encoding": {"y": {"field": "mean", "type": "quantitative", "scale": {"domain": [50000, 200000], "nice": false, "zero": false}}, "y2": {"datum": 50000}}},
        {"mark": {"type": "text", "baseline": "bottom", "dy": -3, "fontSize": 28, "fontWeight": "bold"}, "encoding": {"y": {"field": "upper", "type": "quantitative", "scale": {"domain": [50000, 200000], "nice": false, "zero": false}}, "text": {"field": "sig"}}},
        {"data": {"values": [{"bar": "Control (Vehicle)", "txt": "n=6"}]}, "mark": {"type": "text", "align": "left", "baseline": "middle", "dx": -8, "fontSize": 25, "fontWeight": "bold"}, "encoding": {"x": {"field": "bar", "type": "nominal", "bandPosition": 0}, "y": {"datum": 185800, "type": "quantitative", "scale": {"domain": [50000, 200000], "nice": false, "zero": false}}, "text": {"field": "txt"}}}
      ]
    },
    {
      "data": {"values": [{"group": "Vehicle", "label": "Vehicle\nTreated"}, {"group": "LY294002", "label": "LY294002\nTreated"}]},
      "encoding": {"x": {"field": "group", "type": "nominal", "scale": {"domain": ["Vehicle", "LY294002"], "paddingInner": 0.0444, "paddingOuter": 0.115, "align": 0.28}, "axis": null}},
      "layer": [
        {"mark": {"type": "rect", "fill": "white", "stroke": "black", "strokeWidth": 5, "clip": false}, "encoding": {"y": {"datum": 202500, "type": "quantitative", "scale": {"domain": [50000, 200000], "nice": false, "zero": false}}, "y2": {"datum": 242500}}},
        {"mark": {"type": "text", "lineBreak": "\n", "lineHeight": 33, "fontSize": 27, "fontWeight": "bold", "baseline": "middle"}, "encoding": {"y": {"datum": 230300, "type": "quantitative", "scale": {"domain": [50000, 200000], "nice": false, "zero": false}}, "text": {"field": "label"}}}
      ]
    }
    ]
  }
  ]
}
]
}
